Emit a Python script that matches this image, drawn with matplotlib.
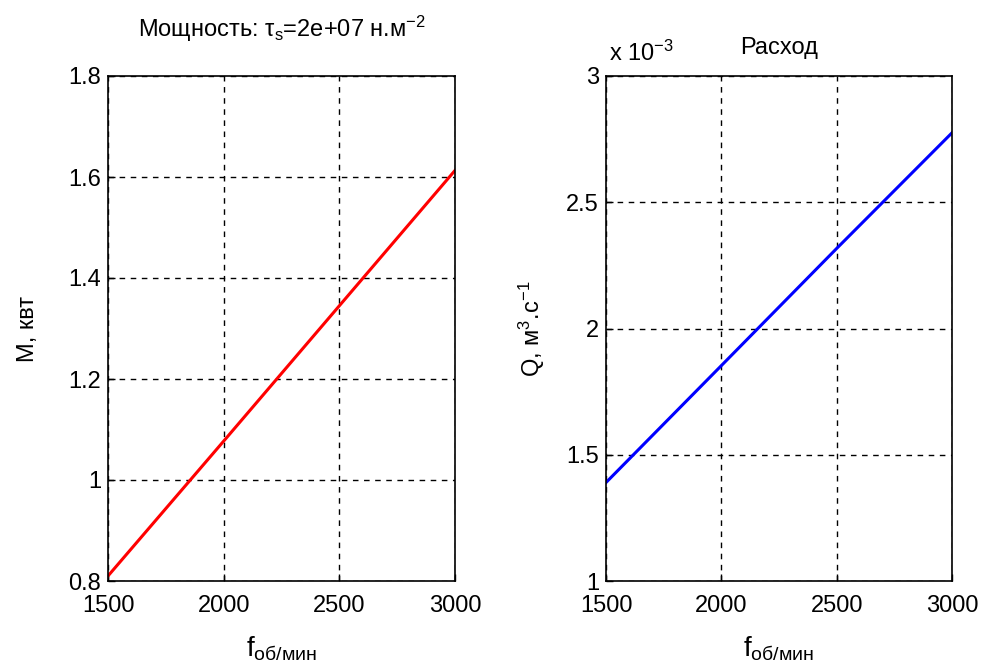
import numpy as np
import matplotlib
matplotlib.use('Agg')
import matplotlib.pyplot as plt

plt.rcParams['font.family'] = ['Liberation Sans', 'DejaVu Sans']
plt.rcParams['mathtext.default'] = 'regular'
plt.rcParams['font.size'] = 17

# данные
freq = [1500, 2000, 2500, 3000]
power_kw = [0.81, 1.077, 1.345, 1.613]
flow_m3s = [1.39e-3, 1.853e-3, 2.317e-3, 2.775e-3]

fig = plt.figure(figsize=(9.86, 6.72), dpi=100)
ax1 = fig.add_axes([108 / 986, 1 - 581 / 672, 347 / 986, 505 / 672])
ax2 = fig.add_axes([606 / 986, 1 - 581 / 672, 346 / 986, 505 / 672])


def style_axes(ax):
    ax.grid(True, color='black', linestyle=(0, (4, 4)), linewidth=1.0)
    ax.tick_params(direction='in', length=5, width=1, labelsize=17)
    ax.tick_params(axis='x', pad=10)
    ax.tick_params(axis='y', pad=5)
    for s in ax.spines.values():
        s.set_linewidth(1.2)
    ax.set_xlim(1500, 3000)
    ax.set_xticks([1500, 2000, 2500, 3000])


ax1.plot(freq, power_kw, color='#ff0000', linewidth=2.2)
style_axes(ax1)
ax1.set_ylim(0.8, 1.8)
ax1.set_yticks([0.8, 1, 1.2, 1.4, 1.6, 1.8])
ax1.set_yticklabels(['0.8', '1', '1.2', '1.4', '1.6', '1.8'])
ax1.set_ylabel('M, квт', fontsize=17, labelpad=21)
ax1.set_xlabel('f$_{об/мин}$', fontsize=20, labelpad=13)
ax1.set_title('Мощность: τ$_s$=2e+07 н.м$^{-2}$', fontsize=17, pad=28)

ax2.plot(freq, np.array(flow_m3s) * 1e3, color='#0000ff', linewidth=2.2)
style_axes(ax2)
ax2.set_ylim(1, 3)
ax2.set_yticks([1, 1.5, 2, 2.5, 3])
ax2.set_yticklabels(['1', '1.5', '2', '2.5', '3'])
ax2.set_ylabel('Q, м$^3$.с$^{-1}$', fontsize=17, labelpad=14)
ax2.set_xlabel('f$_{об/мин}$', fontsize=20, labelpad=13)
ax2.set_title('Расход', fontsize=17, pad=16)
ax2.text(0.01, 1.02, 'x 10$^{-3}$', transform=ax2.transAxes, fontsize=17,
         ha='left', va='bottom')

fig.savefig('out.png', dpi=100)
